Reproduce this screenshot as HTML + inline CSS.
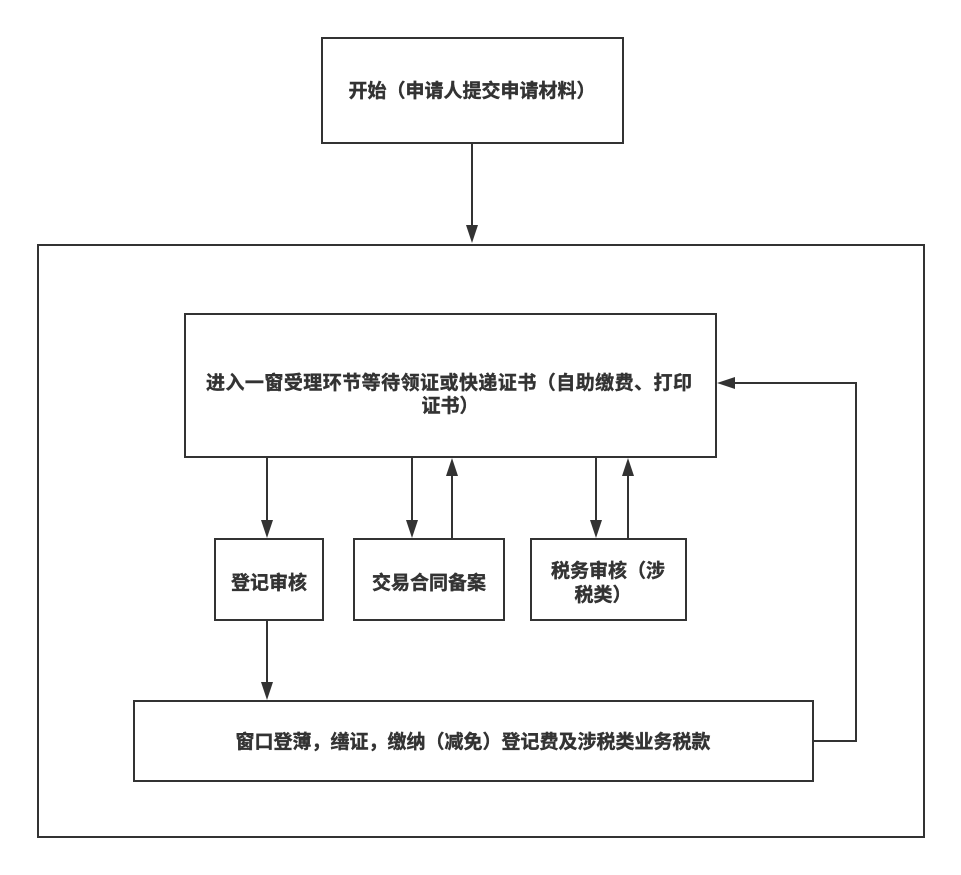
<!DOCTYPE html>
<html><head><meta charset="utf-8"><style>
html,body{margin:0;padding:0;background:#fff;}
svg{display:block;}
text{font-family:"Liberation Sans","Noto Sans CJK SC",sans-serif;font-weight:bold;font-size:19px;fill:#333;stroke:#333;stroke-width:0.4;}
</style></head><body>
<svg width="961" height="875" viewBox="0 0 961 875" xmlns="http://www.w3.org/2000/svg">
<g fill="none" stroke="#333" stroke-width="2">
<rect x="322" y="38" width="301" height="105"/>
<rect x="38" y="245" width="886" height="592"/>
<rect x="185" y="314" width="531" height="143"/>
<rect x="215" y="539" width="108" height="81"/>
<rect x="354" y="539" width="150" height="81"/>
<rect x="531" y="539" width="155" height="81"/>
<rect x="134" y="701" width="679" height="80"/>
<line x1="472" y1="143" x2="472" y2="226"/>
<line x1="267" y1="457" x2="267" y2="521"/>
<line x1="412" y1="457" x2="412" y2="521"/>
<line x1="452" y1="539" x2="452" y2="475"/>
<line x1="596" y1="457" x2="596" y2="521"/>
<line x1="628" y1="539" x2="628" y2="475"/>
<line x1="267" y1="620" x2="267" y2="683"/>
<polyline points="813,741 856,741 856,383 734,383"/>
</g>
<g fill="#333">
<polygon points="466,225 478,225 472,243"/>
<polygon points="261,520 273,520 267,538"/>
<polygon points="406,520 418,520 412,538"/>
<polygon points="446,476 458,476 452,458"/>
<polygon points="590,520 602,520 596,538"/>
<polygon points="622,476 634,476 628,458"/>
<polygon points="261,682 273,682 267,700"/>
<polygon points="735,377 735,389 717,383"/>
</g>
<text x="472" y="97" text-anchor="middle">开始（申请人提交申请材料）</text>
<text x="449" y="389" text-anchor="middle" textLength="486">进入一窗受理环节等待领证或快递证书（自助缴费、打印</text>
<text x="450" y="412" text-anchor="middle">证书）</text>
<text x="269" y="589" text-anchor="middle">登记审核</text>
<text x="429" y="589" text-anchor="middle">交易合同备案</text>
<text x="608" y="577" text-anchor="middle">税务审核（涉</text>
<text x="603" y="601" text-anchor="middle">税类）</text>
<text x="473" y="748" text-anchor="middle">窗口登薄，缮证，缴纳（减免）登记费及涉税类业务税款</text>
</svg>
</body></html>
